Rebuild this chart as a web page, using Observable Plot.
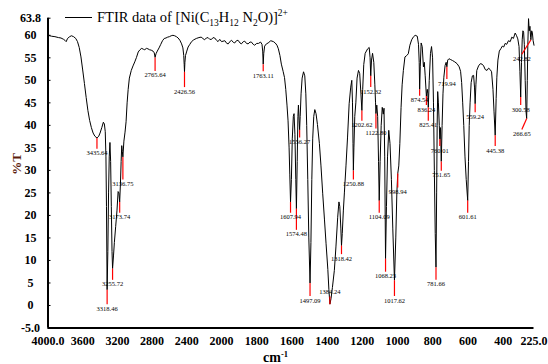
<!DOCTYPE html>
<html>
<head>
<meta charset="utf-8">
<script src="https://cdn.jsdelivr.net/npm/d3@7"></script>
<script src="https://cdn.jsdelivr.net/npm/@observablehq/plot@0.6"></script>
<style>
  html, body { margin: 0; padding: 0; background: #fff; }
  #wrap { position: relative; width: 548px; height: 364px; font-family: "Liberation Serif", serif; }
  #legend { position: absolute; left: 65px; top: 10px; font-size: 14.5px; line-height: 15px; white-space: nowrap; color: #000; }
  #legend .sw { display: inline-block; width: 27px; height: 0; border-top: 1.5px solid #000; vertical-align: 4px; margin-right: 5px; }
  .sb { font-size: 9.5px; position: relative; top: 4px; }
  .sp { font-size: 9.5px; position: relative; top: -6px; }
  #ylab { position: absolute; left: 16.5px; top: 164px; transform: translate(-50%, -50%) rotate(-90deg); font-weight: bold; font-size: 13px; color: #5c1d0c; white-space: nowrap; }
  #xlab { position: absolute; left: 263px; top: 351px; font-weight: bold; font-size: 14px; line-height: 13px; white-space: nowrap; }
  #xlab .sp { font-size: 8.5px; top: -5px; }
</style>
</head>
<body>
<div id="wrap">
  <div id="chart"></div>
  <div id="legend"><span class="sw"></span>FTIR data of [Ni(C<span class="sb">13</span>H<span class="sb">12</span> N<span class="sb">2</span>O)]<span class="sp">2+</span></div>
  <div id="ylab">%T</div>
  <div id="xlab">cm<span class="sp">-1</span></div>
</div>
<script>
// Spectrum: [wavenumber (cm-1), transmittance (%T)]
const spectrum = [
[4000,60.0],[3960,59.8],[3920,59.7],[3880,59.5],[3850,59.4],[3820,59.1],[3800,58.8],[3790,58.6],[3775,59.3],[3750,59.7],[3730,59.9],[3705,59.7],[3680,59.3],[3660,58.6],[3640,57.3],[3620,55.2],[3600,52.3],[3580,49.3],[3560,46.2],[3540,43.3],[3520,41.1],[3500,39.5],[3480,38.3],[3460,37.6],[3435.64,37.2],[3415,37.6],[3400,38.3],[3380,39.5],[3362,40.7],[3350,40.3],[3340,38.6],[3332,33],[3326,22],[3318.46,3.5],[3310,12],[3302,25],[3294,33],[3286,36.2],[3278,32],[3270,22],[3262,12],[3255.72,8.2],[3245,11],[3235,14],[3220,17.5],[3205,21],[3192,25.3],[3183,25],[3173.74,23],[3165,27],[3157,32],[3150,35.5],[3143,34.2],[3136.75,33],[3125,36.5],[3112,38.5],[3100,40.8],[3088,45],[3076,48],[3062,50.5],[3040,52.2],[3020,53.2],[3000,54.1],[2980,55.1],[2960,56.3],[2940,56.8],[2920,57.1],[2900,56.9],[2885,56.8],[2865,57.1],[2848,57],[2830,56.8],[2810,56.7],[2790,56.5],[2775,56.1],[2765.64,55.1],[2755,55.9],[2740,56.5],[2720,57.2],[2700,58],[2680,58.8],[2660,59.3],[2640,59.4],[2620,59.6],[2600,59.7],[2580,59.9],[2560,60],[2540,59.9],[2520,59.7],[2500,59.4],[2480,58.9],[2460,58.1],[2445,57.2],[2435,55.5],[2430,53.5],[2426.56,51.9],[2422,54],[2415,55.5],[2400,56.5],[2385,57.4],[2365,58],[2345,58.6],[2320,59],[2290,59.3],[2260,59.5],[2235,59.6],[2215,59.3],[2195,59],[2175,59.4],[2155,59.5],[2135,59.1],[2115,59.1],[2097,59.5],[2078,59.4],[2058,58.9],[2040,58.6],[2020,59.1],[2000,58.6],
[1981,58.8],[1970,58.2],[1962,58.1],[1950,58.7],[1943,58.9],[1932,58.4],[1925,58.3],[1915,58.8],[1906,58.9],[1895,58.3],[1887,58.1],[1876,58.6],[1868,58.7],[1858,58.2],[1849,58.1],[1838,58.5],[1830,58.5],[1820,58.0],[1812,57.8],[1800,58.2],[1790,58.2],[1778,58.5],[1770,58.0],[1766,56.5],[1763.11,53.6],[1760,56],[1755,57.6],[1745,58.1],[1735,58.3],[1720,58.8],[1705,58.6],[1695,58.3],[1685,57.8],[1677,57],[1668,55.5],[1660,53.6],[1650,52],[1642,50.6],[1635,48],[1628,44.5],[1622,41],[1616,35],[1612,29],[1607.94,23],[1603,28],[1598,37],[1592,42],[1588,42.6],[1583,38],[1578,28],[1574.48,21.5],[1570,32],[1566,42],[1563,44.5],[1559,41],[1556.27,39],[1553,42],[1548,47],[1542,50.5],[1534,51.9],[1527,51],[1521,47],[1516,40],[1510,28],[1504,15],[1497.09,5],[1492,14],[1487,28],[1482,37],[1476,42],[1470,43.5],[1463,42.6],[1455,40.2],[1444,36],[1435,31],[1425,24.8],[1415,19],[1406,13.7],[1396,8],[1390,3.5],[1384.24,0.3],[1378,1.5],[1370,4],[1359,7.8],[1350,13],[1340,19.6],[1333,23],[1328,22],[1322,17],[1318.42,13.3],[1314,16],[1308,21],[1302,25],[1293,31],[1284,37.4],[1275,44.8],[1266,48.5],[1260,50],[1256,45],[1253,36],[1250.88,30],[1248,35],[1243,42],[1237,45],[1230,50.5],[1222,52.2],[1215,51.5],[1208,47],[1202.62,43.3],[1198,48],[1192,53.5],[1184,56],[1170,57],[1161,57.3],[1156,55],[1152.32,51],[1148,54.5],[1142,56],[1135,54],[1129,49],[1125,45],[1122.8,42.6],[1118,44.5],[1113,42],[1108,32],[1104.09,23.3],[1099,32],[1093,40],[1087,44],[1081,42.5],[1077,43.8],[1073,33],[1068.23,10.4],[1063,22],[1057,33],[1050,38.9],[1043,36],[1035,28],[1027,17],[1017.62,5.6],[1010,15],[1004,25],[998.94,29.3],[993,31],[987,36],[980,44],[974,49],[967,52.2],[958,55.2],[948,55.5],[939,55.9],[930,57.8],[920,59],[911,59.6],[900,60],[888,59.8],[881,58],[877,54],[874.54,48],[871,53],[866,58.3],[860,57.5],[853,53],[848,54],[843,51],[836.24,46.5],[831,48],[828,47],[825.41,44],[820,50],[813,56],[807,57.5],[801,55],[796,45],[791,30],[786,16],[781.66,8.5],[778,25],[775,40],[772,47.5],[768,45],[763,40],[760.01,37],[756,39.5],[751.65,32],[747,40],[742,47],[737,50.7],[730,53.3],[724,54],[719.94,53],[715,54.5],[708,54.8],[698,54.6],[688,54.4],[675,54.1],[662,53.7],[650,53],[642,52],[636,49.5],[630,45],[624,40],[617,33],[610,28],[601.61,23.3],[597,32],[593,40],[588,45],[582,49.5],[575,51],[568,51.1],[563,48.5],[559.24,44.8],[555,49],[550,52.2],[540,53.2],[530,53.7],[520,53.6],[511,53.2],[502,52.4],[492,52.2],[483,52.7],[474,52.4],[466,51.9],[458,48],[452,43],[445.38,37.8],[440,46],[436,50.7],[430,54.5],[422,56.5],[412,57.1],[405,57.6],[397,57.4],[389,58.2],[380,58],[370,58.8],[360,58.6],[351,59.6],[342,59.3],[332,60.5],[325,60],[317,59.2],[310,57.5],[305,52],[300.58,46.3],[296,54],[292,59],[288,61],[284,60.7],[280,58],[275,50],[270,43],[266.65,41.5],[263,50],[260,58],[256,63.7],[252,61],[248,62],[244,59.5],[242.82,59],[238,61],[234,60.5],[230,58.8],[225,57.8]
];

// Labelled peaks: wavenumber, %T at peak, %T of label, optional label wavenumber
const peaks = [
{wn:3435.64,t:37.2,lt:33.8},{wn:3318.46,t:3.5,lt:-0.7},{wn:3255.72,t:8.2,lt:4.7},
{wn:3173.74,t:23,lt:19.6},{wn:3136.75,t:33,lt:27},{wn:2765.64,t:55.1,lt:51.1},
{wn:2426.56,t:51.9,lt:47.5},{wn:1763.11,t:53.6,lt:51.0},{wn:1607.94,t:23,lt:19.6},
{wn:1574.48,t:21.5,lt:15.8},{wn:1556.27,t:39,lt:36.3},{wn:1497.09,t:5,lt:1.1},
{wn:1384.24,t:0.3,lt:3.0},{wn:1318.42,t:13.3,lt:10.4},{wn:1250.88,t:30,lt:27},
{wn:1202.62,t:43.3,lt:40},{wn:1152.32,t:51,lt:47.5},{wn:1122.80,t:42.6,lt:38.3},
{wn:1104.09,t:23.3,lt:19.6},{wn:1068.23,t:10.4,lt:6.5},{wn:1017.62,t:5.6,lt:1.1},
{wn:998.94,t:29.3,lt:25.2},{wn:874.54,t:48,lt:45.6},{wn:836.24,t:46.5,lt:43.5},
{wn:825.41,t:44,lt:40},{wn:781.66,t:8.5,lt:4.7},{wn:760.01,t:37,lt:34.4},
{wn:751.65,t:32,lt:28.9},{wn:719.94,t:53,lt:49.3},{wn:601.61,t:23.3,lt:19.6},
{wn:559.24,t:44.8,lt:41.9},{wn:445.38,t:37.8,lt:34.4},{wn:300.58,t:46.3,lt:43.5},
{wn:266.65,t:41.5,lt:38.1,lw:294},{wn:242.82,t:59,lt:54.8,lw:294}
];

const xTicks = [4000, 3600, 3200, 2800, 2400, 2000, 1800, 1600, 1400, 1200, 1000, 800, 600, 400, 225];
const yTicks = [-5, 0, 5, 10, 15, 20, 25, 30, 35, 40, 45, 50, 55, 60, 63.8];
const xDomain = [4000, 2000, 225];
const yDomain = [-5, 63.8];

const fx = d => (d === 4000 || d === 225) ? d.toFixed(1) : String(d);
const fy = d => (d === -5 || d === 63.8) ? d.toFixed(1) : String(d);
const lx = d => d.lw ?? d.wn;
const edge = d => d.lt < d.t ? d.lt + 1.0 : d.lt - 1.0;

const chart = Plot.plot({
  width: 548,
  height: 364,
  marginLeft: 47.5,
  marginRight: 14.5,
  marginTop: 17.7,
  marginBottom: 36.5,
  style: {fontFamily: "Liberation Serif", fontSize: "12px", fontWeight: "bold", background: "white", color: "black"},
  x: {type: "linear", domain: xDomain, range: [47.5, 221, 533.5]},
  y: {domain: yDomain},
  marks: [
    Plot.axisX(xTicks, {tickSize: 0, tickPadding: 8, tickFormat: fx, label: null}),
    Plot.axisY(yTicks, {tickSize: 0, tickPadding: 17.5, textAnchor: "middle", tickFormat: fy, label: null}),
    Plot.axisY(yTicks, {tickSize: 3, dx: 3, tickFormat: () => "", label: null}),
    Plot.ruleX([xDomain[0]], {y1: yDomain[0], y2: yDomain[1], strokeWidth: 2}),
    Plot.ruleY([yDomain[0]], {x1: xDomain[0], x2: xDomain[2], strokeWidth: 2}),
    Plot.line(spectrum, {x: d => d[0], y: d => d[1], stroke: "black", strokeWidth: 1}),
    Plot.link(peaks, {x1: d => d.wn, y1: d => d.t, x2: lx, y2: edge, stroke: "red", strokeWidth: 1.2}),
    Plot.text(peaks, {x: lx, y: d => d.lt, text: d => d.wn.toFixed(2), fontSize: 6.5, fontWeight: "normal", fill: "black"})
  ]
});
document.getElementById("chart").appendChild(chart);
</script>
</body>
</html>
